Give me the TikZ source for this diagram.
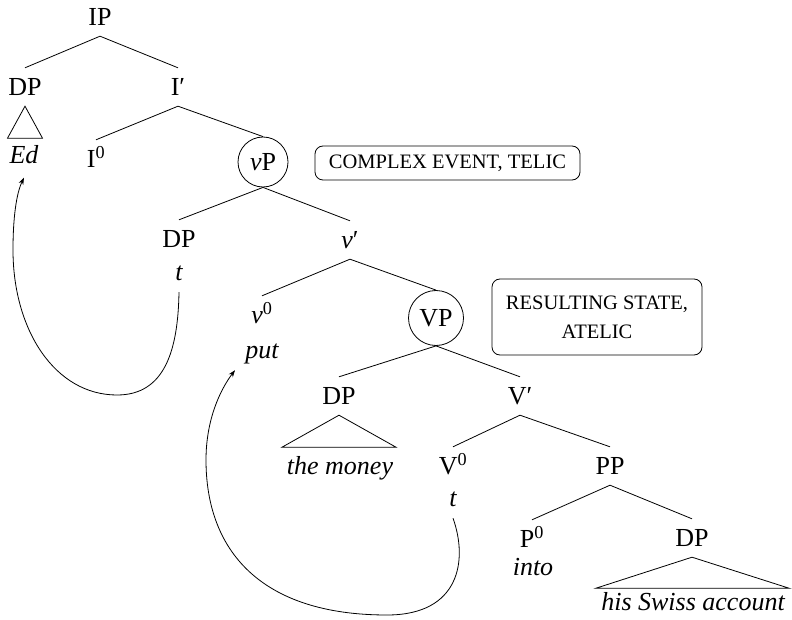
\documentclass[tikz,border=0pt]{standalone}
\usepackage{fontspec}
\setmainfont{Liberation Serif}
\usetikzlibrary{arrows.meta}
\begin{document}
\begin{tikzpicture}[x=1pt,y=-1pt,
  lab/.style={font=\fontsize{26}{30}\selectfont, text height=17pt, text depth=0pt, inner xsep=1pt, inner ysep=10.5pt},
  leaf/.style={font=\fontsize{26}{30}\selectfont\itshape, text height=17pt, text depth=0pt, inner sep=0pt},
  circ/.style={lab, draw, circle, inner sep=0pt, minimum size=50pt, line width=0.8pt},
  edge/.style={line width=0.8pt},
  tri/.style={line width=0.8pt},
  move/.style={line width=0.8pt, -{Stealth[length=7pt,width=5pt]}},
  note/.style={draw, rounded corners=8pt, line width=0.8pt, font=\fontsize{20.5}{29}\selectfont, align=center, inner sep=0pt}
]
\useasboundingbox (0,0) rectangle (792,620);

% tree labels
\node[lab] (ip) at (100,17) {IP};
\node[lab] (dpA) at (25,87) {DP};
\node[lab] (ibar) at (178,87) {I′};
\node[lab] (izero) at (96,159) {I\textsuperscript{0}};
\node[circ] (vp) at (263,162) {\textit{v}P};
\node[lab] (dpB) at (179,239) {DP};
\node[lab] (vbar) at (350,240) {\textit{v}′};
\node[lab] (vzero) at (262,315) {\textit{v}\textsuperscript{0}};
\node[circ, minimum size=55pt] (bigvp) at (436,318) {VP};
\node[lab] (dpC) at (339,396) {DP};
\node[lab] (Vbar) at (520,396) {V′};
\node[lab] (Vzero) at (453,466) {V\textsuperscript{0}};
\node[lab] (pp) at (610,466) {PP};
\node[lab] (pzero) at (532,539) {P\textsuperscript{0}};
\node[lab] (dpD) at (692,538) {DP};

% leaves
\node[leaf] (ed) at (24,155) {Ed};
\node[leaf] (tA) at (179,272) {t};
\node[leaf] (put) at (262,350) {put};
\node[leaf] (money) at (340,466) {the money};
\node[leaf] (tB) at (453,498) {t};
\node[leaf] (into) at (533,567) {into};
\node[leaf] (swiss) at (693,602) {his Swiss account};

% notes
\node[note, minimum width=265pt, minimum height=34pt] (evt) at (447.5,163) {COMPLEX EVENT, TELIC};
\node[note, minimum width=210pt, minimum height=76pt] (res) at (597,317) {RESULTING STATE,\\ATELIC};

% edges
\draw[edge] (ip.south) -- (dpA.north);
\draw[edge] (ip.south) -- (ibar.north);
\draw[edge] (ibar.south) -- (izero.north);
\draw[edge] (ibar.south) -- (vp.north);
\draw[edge] (vp.south) -- (dpB.north);
\draw[edge] (vp.south) -- (vbar.north);
\draw[edge] (vbar.south) -- (vzero.north);
\draw[edge] (vbar.south) -- (bigvp.north);
\draw[edge] (bigvp.south) -- (dpC.north);
\draw[edge] (bigvp.south) -- (Vbar.north);
\draw[edge] (Vbar.south) -- (Vzero.north);
\draw[edge] (Vbar.south) -- (pp.north);
\draw[edge] (pp.south) -- (pzero.north);
\draw[edge] (pp.south) -- (dpD.north);

% triangles
\draw[tri] (dpA.south) -- ++(-17.5,32) -- ++(35,0) -- cycle;
\draw[tri] (dpC.south) -- ++(-57,32) -- ++(114,0) -- cycle;
\draw[tri] (dpD.south) -- ++(-96,31) -- ++(193,0) -- cycle;

% movement arrows
\draw[move] ([yshift=-11.5pt]tA.south) .. controls (178,350) and (165,395) .. (117,395)
  .. controls (55,395) and (13,330) .. (13,250)
  .. controls (13,210) and (18,190) .. ([yshift=-14pt]ed.south);
\draw[move] ([yshift=-11.5pt]tB.south) .. controls (468,560) and (460,615) .. (387,615)
  .. controls (260,615) and (206,550) .. (206,460)
  .. controls (206,420) and (220,390) .. ([xshift=-27pt,yshift=-11.5pt]put.south);
\end{tikzpicture}
\end{document}
